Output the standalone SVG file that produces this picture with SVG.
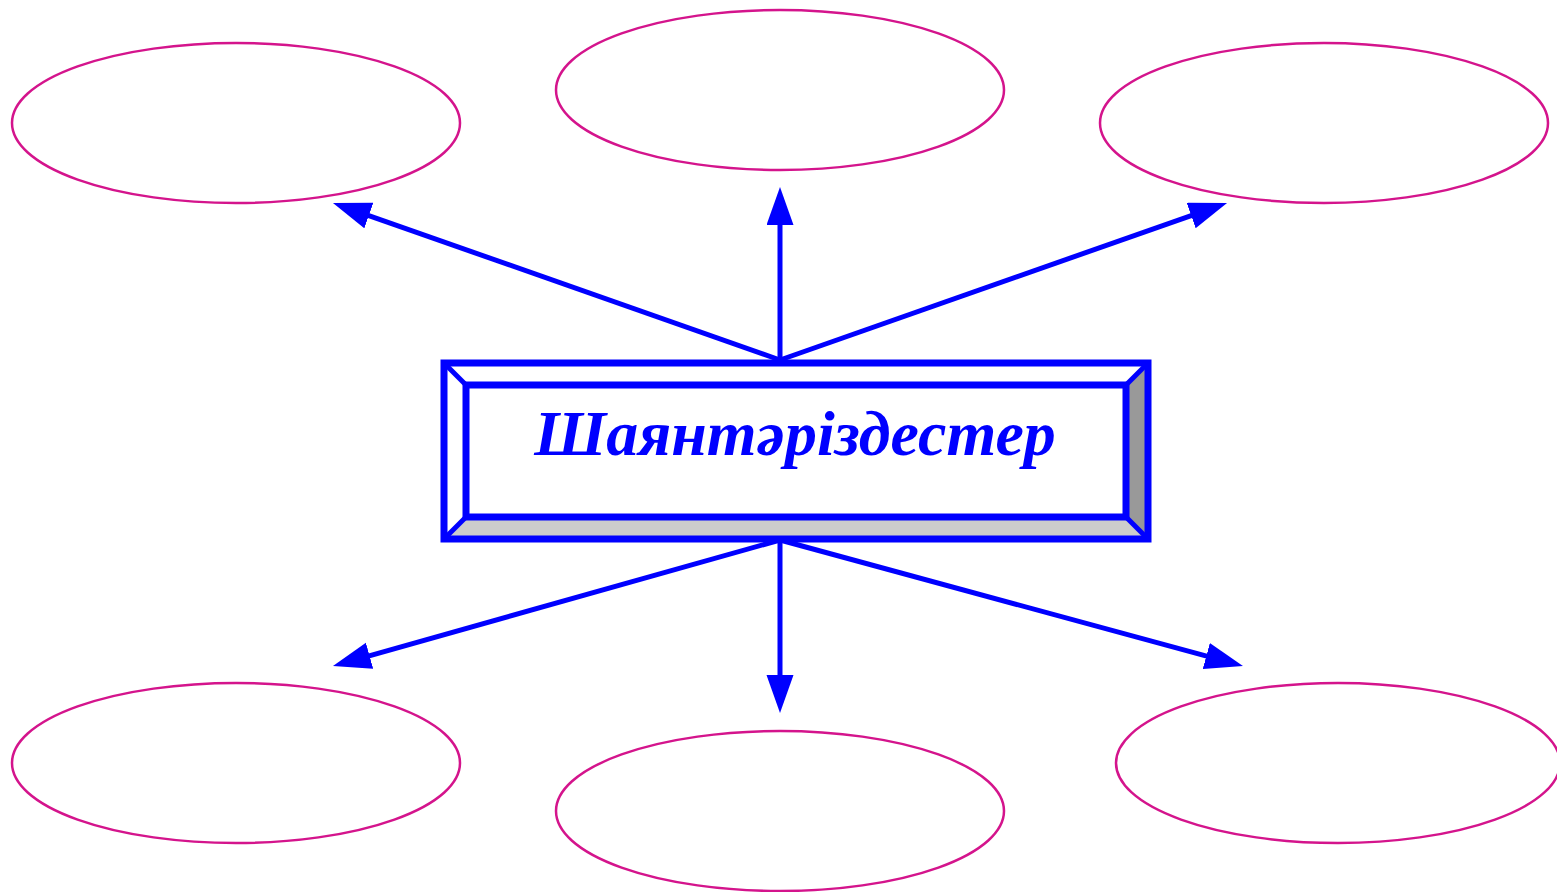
<svg xmlns="http://www.w3.org/2000/svg" width="1557" height="892" viewBox="0 0 1557 892">
<style>
.oval{fill:none;stroke:#d4148c;stroke-width:2.5}
.conn{stroke:#0000ff;stroke-width:5;fill:none}
.edge{stroke:#0000ff;fill:none}
.lbl{font-family:"Liberation Serif","Times New Roman",serif;font-weight:bold;font-style:italic;fill:#0000ff}
</style>
<defs>
<marker id="ah" markerUnits="userSpaceOnUse" markerWidth="40" markerHeight="28" refX="28" refY="13.5" orient="auto">
<path d="M0,0 L38,13.5 L0,27 z" fill="#0000ff"/>
</marker>
</defs>
<rect width="1557" height="892" fill="#ffffff"/>
<g id="n1"><ellipse class="oval" cx="236" cy="123" rx="224" ry="80"/></g>
<g id="n2"><ellipse class="oval" cx="780" cy="90" rx="224" ry="80"/></g>
<g id="n3"><ellipse class="oval" cx="1324" cy="123" rx="224" ry="80"/></g>
<g id="n4"><ellipse class="oval" cx="236" cy="763" rx="224" ry="80"/></g>
<g id="n5"><ellipse class="oval" cx="780" cy="811" rx="224" ry="80"/></g>
<g id="n6"><ellipse class="oval" cx="1338" cy="763" rx="222" ry="80"/></g>
<g id="connectors">
<line class="conn" x1="780" y1="360" x2="342.4" y2="206.3" marker-end="url(#ah)"/>
<line class="conn" x1="780" y1="360" x2="780" y2="197" marker-end="url(#ah)"/>
<line class="conn" x1="780" y1="360" x2="1217.6" y2="206.3" marker-end="url(#ah)"/>
<line class="conn" x1="780" y1="540" x2="342.6" y2="663.3" marker-end="url(#ah)"/>
<line class="conn" x1="780" y1="540" x2="780" y2="703" marker-end="url(#ah)"/>
<line class="conn" x1="780" y1="540" x2="1233.3" y2="663.4" marker-end="url(#ah)"/>
</g>
<g id="center">
<rect x="444" y="363" width="704" height="176" fill="#ffffff"/>
<polygon points="444,539 1148,539 1126,517 466,517" fill="#cccccc"/>
<polygon points="1148,363 1148,539 1126,517 1126,385" fill="#999999"/>
<line class="edge" stroke-width="5" x1="444" y1="363" x2="466" y2="385"/>
<line class="edge" stroke-width="5" x1="1148" y1="363" x2="1126" y2="385"/>
<line class="edge" stroke-width="5" x1="444" y1="539" x2="466" y2="517"/>
<line class="edge" stroke-width="5" x1="1148" y1="539" x2="1126" y2="517"/>
<rect class="edge" stroke-width="7" x="444" y="363" width="704" height="176"/>
<rect class="edge" stroke-width="7" x="466" y="385" width="660" height="132" fill="#ffffff"/>
<text class="lbl" x="795" y="455" font-size="64" text-anchor="middle">Шаянтәріздестер</text>
</g>
</svg>
